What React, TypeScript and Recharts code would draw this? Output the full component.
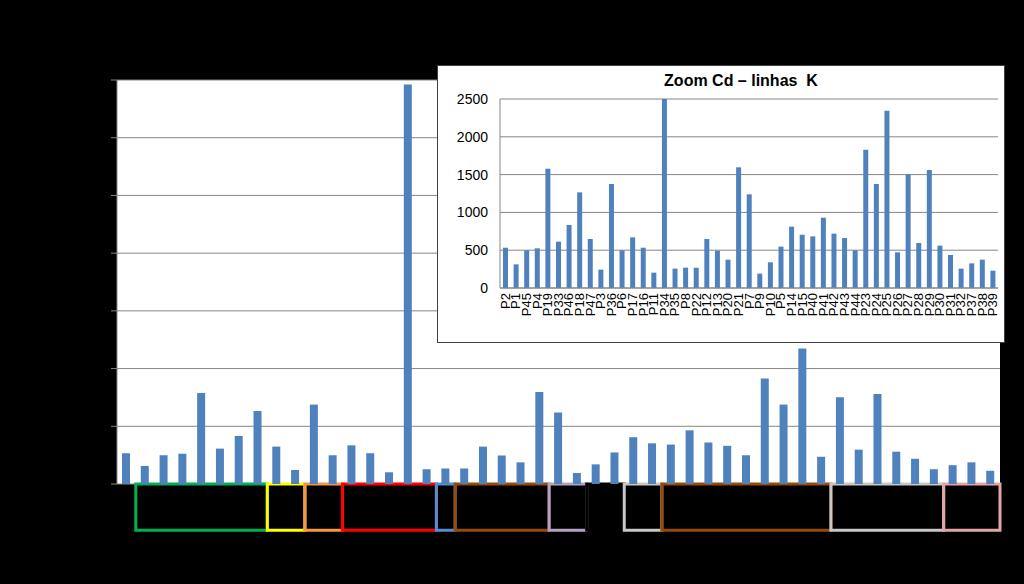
import React from 'react';
import { BarChart, Bar, XAxis, YAxis, CartesianGrid, ReferenceArea } from 'recharts';

const categories = ['P2','P1','P45','P4','P19','P33','P46','P18','P47','P3','P36','P6','P17','P16','P11','P34','P35','P8','P22','P12','P13','P20','P21','P7','P9','P10','P5','P14','P15','P40','P41','P42','P43','P44','P23','P24','P25','P26','P27','P28','P29','P30','P31','P32','P37','P38','P39'];
const cdValues = [533,313,498,525,1578,613,833,1265,648,243,1376,498,670,533,203,6920,256,269,269,648,494,375,1596,1239,190,340,547,811,705,683,930,719,661,498,1830,1376,2346,472,1504,595,1561,560,437,256,326,375,229];
const mainTicks = [0,1000,2000,3000,4000,5000,6000,7000];
const insetTicks = [0,500,1000,1500,2000,2500];
const boundaryTicks = categories.map((_, i) => i).concat([categories.length]);
const groupStarts = ['P1','P47','P36','P17','P8','P22','P7','P10','P14','P40','P27','P37'];
const groupEnds = ['P18','P3','P6','P35','P8','P21','P9','P5','P15','P26','P32','P39'];
const groupColors = ['#00B050','#FFFF00','#F79646','#FF0000','#558ED5','#984807','#B3A2C7','#000000','#C8C8C8','#984807','#C8C8C8','#E6A5A5'];
const insetTitle = 'Zoom Cd \u2013 linhas  K';

const data = categories.map((name, i) => ({ name, idx: i, cd: cdValues[i] }));

const BAR = '#4F81BD';
const GRID = '#868686';
const FONT = '"Liberation Sans", Arial, sans-serif';

const RotTick = (props: any) => {
  const { x, y, payload } = props;
  return (
    <text x={x} y={y + 5} transform={`rotate(-90 ${x} ${y + 5})`} textAnchor="end" dy="0.35em" fontSize={13} fill="#000" fontFamily={FONT}>
      {payload.value}
    </text>
  );
};

export default function App() {
  return (
    <div style={{ position: 'absolute', left: 0, top: 0, width: 1024, height: 584, background: '#000', overflow: 'hidden' }}>
      <div style={{ position: 'absolute', left: 0, top: 0 }}>
        <BarChart width={1024} height={584} data={data} margin={{ top: 80, right: 24, bottom: 100, left: 0 }}>
          <CartesianGrid vertical={false} stroke={GRID} fill="#fff" horizontalValues={mainTicks} />
          <XAxis xAxisId="t" type="number" dataKey="idx" domain={[0, categories.length]} ticks={boundaryTicks} allowDataOverflow height={0} axisLine={false} tickLine={{ stroke: GRID }} tickSize={5} tickFormatter={() => ''} />
          <XAxis xAxisId="c" dataKey="name" height={0} axisLine={{ stroke: GRID }} tickLine={false} tick={false} />
          <YAxis domain={[0, 7000]} ticks={mainTicks} width={117} axisLine={{ stroke: GRID }} tickLine={{ stroke: GRID }} tickSize={6} tickFormatter={() => ''} />
          <Bar xAxisId="c" dataKey="cd" fill={BAR} barSize={8} isAnimationActive={false} />
          {groupStarts.map((s, i) => (
            <ReferenceArea key={s} xAxisId="c" x1={s} x2={groupEnds[i]} y1={-800} y2={0} ifOverflow="visible" fill="none" stroke={groupColors[i]} strokeWidth={3} />
          ))}
        </BarChart>
      </div>
      <div style={{ position: 'absolute', left: 437, top: 65, width: 566, height: 276, background: '#fff', border: '1px solid #404040' }}>
        <div style={{ position: 'absolute', left: 0, top: 6, width: 606, textAlign: 'center', fontFamily: FONT, fontWeight: 'bold', fontSize: 16, color: '#000', whiteSpace: 'pre' }}>
          {insetTitle}
        </div>
        <div style={{ position: 'absolute', left: 0, top: 0 }}>
          <BarChart width={566} height={276} data={data} margin={{ top: 33, right: 6, bottom: 4, left: 7 }}>
            <CartesianGrid vertical={false} stroke={GRID} horizontalValues={insetTicks} />
            <XAxis xAxisId="t" type="number" dataKey="idx" domain={[0, categories.length]} ticks={boundaryTicks} allowDataOverflow height={0} axisLine={false} tickLine={{ stroke: GRID }} tickSize={4} tickFormatter={() => ''} />
            <XAxis xAxisId="c" dataKey="name" height={50} interval={0} axisLine={{ stroke: GRID }} tickLine={false} tickSize={0} tickMargin={0} tick={<RotTick />} />
            <YAxis domain={[0, 2500]} ticks={insetTicks} allowDataOverflow width={55} axisLine={{ stroke: GRID }} tickLine={false} tickMargin={6} tick={{ fontSize: 14, fill: '#000', fontFamily: FONT }} />
            <Bar xAxisId="c" dataKey="cd" fill={BAR} barSize={5} isAnimationActive={false} />
          </BarChart>
        </div>
      </div>
    </div>
  );
}
